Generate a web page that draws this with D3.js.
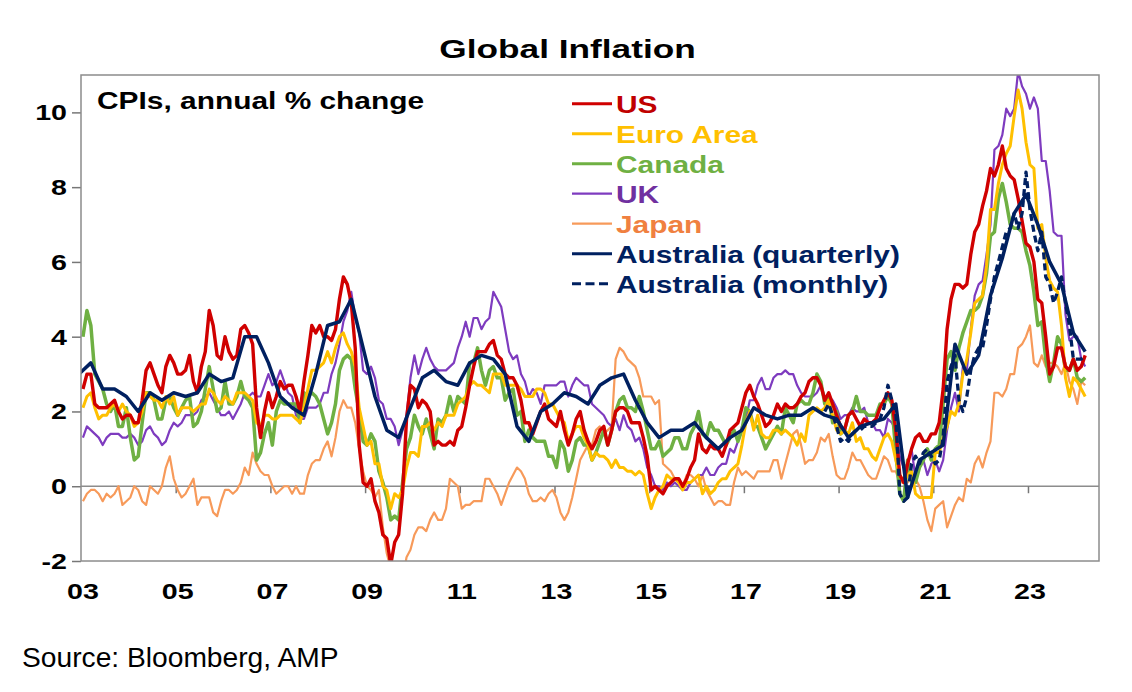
<!DOCTYPE html>
<html><head><meta charset="utf-8">
<script src="https://cdn.jsdelivr.net/npm/d3@7"></script>
<style>body{margin:0;background:#fff}svg{display:block}</style>
</head><body><svg id="c" width="1132" height="692"></svg>
<script>
// ---- data (annual % change) ----
const startYear = 2003; // monthly series start Jan 2003
const us = [
2.6,3.0,3.0,2.2,2.1,2.1,2.1,2.2,2.3,2.0,1.8,1.9,
1.9,1.7,1.7,2.3,3.1,3.3,3.0,2.7,2.5,3.2,3.5,3.3,
3.0,3.0,3.1,3.5,2.8,2.5,3.2,3.6,4.7,4.3,3.5,3.4,
4.0,3.6,3.4,3.5,4.2,4.3,4.1,3.8,2.1,1.3,2.0,2.5,
2.1,2.4,2.8,2.6,2.7,2.7,2.4,2.0,2.8,3.5,4.3,4.1,
4.3,4.0,4.0,3.9,4.2,5.0,5.6,5.4,4.9,3.7,1.1,0.1,
0.0,0.2,-0.4,-0.7,-1.3,-1.4,-2.1,-1.5,-1.3,-0.2,1.8,2.7,
2.6,2.1,2.3,2.2,2.0,1.1,1.2,1.1,1.1,1.2,1.1,1.5,
1.6,2.1,2.7,3.2,3.6,3.6,3.6,3.8,3.9,3.5,3.4,3.0,
2.9,2.9,2.7,2.3,1.7,1.7,1.4,1.7,2.0,2.2,1.8,1.7,
1.6,2.0,1.5,1.1,1.4,1.8,2.0,1.5,1.2,1.0,1.2,1.5,
1.6,1.1,1.5,2.0,2.1,2.1,2.0,1.7,1.7,1.7,1.3,0.8,
-0.1,0.0,-0.1,-0.2,0.0,0.1,0.2,0.2,0.0,0.2,0.5,0.7,
1.4,1.0,0.9,1.1,1.0,1.0,0.8,1.1,1.5,1.6,1.7,2.1,
2.5,2.7,2.4,2.2,1.9,1.6,1.7,1.9,2.2,2.0,2.2,2.1,
2.1,2.2,2.4,2.5,2.8,2.9,2.9,2.7,2.3,2.5,2.2,1.9,
1.6,1.5,1.9,2.0,1.8,1.6,1.8,1.7,1.7,1.8,2.1,2.3,
2.5,2.3,1.5,0.3,0.1,0.6,1.0,1.3,1.4,1.2,1.2,1.4,
1.4,1.7,2.6,4.2,5.0,5.4,5.4,5.3,5.4,6.2,6.8,7.0,
7.5,7.9,8.5,8.3,8.6,9.1,8.5,8.3,8.2,7.7,7.1,6.5,
6.4,6.0,5.0,4.9,4.0,3.0,3.2,3.7,3.7,3.2,3.1,3.4,
3.1,3.2,3.5];
const euroArea = [
2.1,2.4,2.5,2.1,1.8,1.9,1.9,2.1,2.2,2.0,2.2,2.0,
1.9,1.6,1.7,2.0,2.5,2.4,2.3,2.3,2.1,2.4,2.2,2.4,
1.9,2.1,2.1,2.1,2.0,2.1,2.2,2.2,2.6,2.5,2.3,2.2,
2.4,2.3,2.2,2.5,2.5,2.5,2.4,2.3,1.7,1.6,1.9,1.9,
1.8,1.8,1.9,1.9,1.9,1.9,1.8,1.7,2.1,2.6,3.1,3.1,
3.2,3.3,3.6,3.3,3.7,4.0,4.1,3.8,3.6,3.2,2.1,1.6,
1.1,1.2,0.6,0.6,0.0,-0.1,-0.6,-0.2,-0.3,-0.1,0.5,0.9,
0.9,0.8,1.6,1.6,1.7,1.5,1.7,1.6,1.9,1.9,1.9,2.2,
2.3,2.4,2.7,2.8,2.7,2.7,2.6,2.5,3.0,3.0,3.0,2.7,
2.7,2.7,2.7,2.6,2.4,2.4,2.4,2.6,2.6,2.5,2.2,2.2,
2.0,1.8,1.7,1.2,1.4,1.6,1.6,1.3,1.1,0.7,0.9,0.8,
0.8,0.7,0.5,0.7,0.5,0.5,0.4,0.4,0.3,0.4,0.3,-0.2,
-0.6,-0.3,-0.1,0.0,0.3,0.2,0.2,0.1,-0.1,0.1,0.1,0.2,
0.3,-0.2,0.0,-0.2,-0.1,0.1,0.2,0.2,0.4,0.5,0.6,1.1,
1.7,2.0,1.5,1.9,1.4,1.3,1.3,1.5,1.5,1.4,1.5,1.4,
1.3,1.1,1.4,1.2,1.9,2.0,2.1,2.0,2.1,2.3,1.9,1.5,
1.4,1.5,1.4,1.7,1.2,1.3,1.0,1.0,0.8,0.7,1.0,1.3,
1.4,1.2,0.7,0.3,0.1,0.3,0.4,-0.2,-0.3,-0.3,-0.3,-0.3,
0.9,0.9,1.3,1.6,2.0,1.9,2.2,3.0,3.4,4.1,4.9,5.0,
5.1,5.9,7.4,7.4,8.1,8.6,8.9,9.1,9.9,10.6,10.1,9.2,
8.6,8.5,6.9,7.0,6.1,5.5,5.3,5.2,4.3,2.9,2.4,2.9,
2.8,2.6,2.4];
const canada = [
4.0,4.7,4.3,3.0,2.8,2.6,2.2,2.0,2.2,1.6,1.6,2.1,
1.3,0.7,0.8,1.7,2.5,2.5,2.3,1.8,1.8,2.3,2.4,2.1,
1.9,2.1,2.3,2.4,1.6,1.7,2.0,2.6,3.2,2.6,2.0,2.1,
2.8,2.2,2.2,2.4,2.8,2.4,2.3,2.1,0.7,0.9,1.4,1.7,
1.1,2.0,2.3,2.2,2.2,2.2,2.2,1.7,2.5,2.4,2.5,2.4,
2.2,1.8,1.4,1.7,2.2,3.1,3.4,3.5,3.4,2.6,2.0,1.2,
1.1,1.4,1.2,0.4,0.1,-0.3,-0.9,-0.8,-0.9,0.1,1.0,1.3,
1.9,1.6,1.4,1.8,1.4,1.0,1.8,1.7,1.9,2.4,2.0,2.4,
2.3,2.2,3.3,3.3,3.7,3.1,2.7,3.1,3.2,2.9,2.9,2.3,
2.5,2.6,1.9,2.0,1.2,1.5,1.3,1.2,1.2,1.2,0.8,0.8,
0.5,1.2,1.0,0.4,0.7,1.2,1.3,1.1,1.1,0.7,0.9,1.2,
1.5,1.1,1.5,2.0,2.3,2.4,2.1,2.1,2.0,2.4,2.0,1.5,
1.0,1.0,1.2,0.8,0.9,1.0,1.3,1.3,1.0,1.0,1.4,1.6,
2.0,1.4,1.3,1.7,1.5,1.5,1.3,1.1,1.3,1.5,1.2,1.5,
2.1,2.0,1.6,1.6,1.3,1.0,1.2,1.4,1.6,1.4,2.1,1.9,
1.7,2.2,2.3,2.2,2.2,2.5,3.0,2.8,2.2,2.4,1.7,2.0,
1.4,1.5,1.9,2.0,2.4,2.0,2.0,1.9,1.9,1.9,2.2,2.2,
2.4,2.2,0.9,-0.2,-0.4,0.7,0.1,0.1,0.5,0.7,1.0,0.7,
1.0,1.1,2.2,3.4,3.6,3.1,3.7,4.1,4.4,4.7,4.7,4.8,
5.1,5.7,6.7,6.8,7.7,8.1,7.6,7.0,6.9,6.9,6.8,6.3,
5.9,5.2,4.3,4.4,3.4,2.8,3.3,4.0,3.8,3.1,3.1,3.4,
2.9,2.8,2.9];
const uk = [
1.3,1.6,1.5,1.4,1.3,1.1,1.3,1.4,1.4,1.4,1.3,1.3,
1.4,1.3,1.1,1.2,1.5,1.6,1.4,1.3,1.1,1.2,1.5,1.7,
1.6,1.7,1.9,1.9,1.9,2.0,2.3,2.4,2.5,2.3,2.1,1.9,
1.9,2.0,1.8,2.0,2.2,2.5,2.4,2.5,2.4,2.4,2.7,3.0,
2.7,2.8,3.1,2.8,2.5,2.4,1.9,1.8,1.8,2.1,2.1,2.1,
2.2,2.5,2.5,3.0,3.3,3.8,4.4,4.7,5.2,4.5,4.1,3.1,
3.0,3.2,2.9,2.3,2.2,1.8,1.8,1.6,1.1,1.5,1.9,2.9,
3.5,3.0,3.4,3.7,3.4,3.2,3.1,3.1,3.1,3.2,3.3,3.7,
4.0,4.4,4.0,4.5,4.5,4.2,4.4,4.5,5.2,5.0,4.8,4.2,
3.6,3.4,3.5,3.0,2.8,2.4,2.6,2.5,2.2,2.7,2.7,2.7,
2.7,2.8,2.8,2.4,2.7,2.9,2.8,2.7,2.7,2.2,2.1,2.0,
1.9,1.7,1.6,1.8,1.5,1.9,1.6,1.5,1.2,1.3,1.0,0.5,
0.3,0.0,0.0,-0.1,0.1,0.0,0.1,0.0,-0.1,-0.1,0.1,0.2,
0.3,0.3,0.5,0.3,0.3,0.5,0.6,0.6,1.0,0.9,1.2,1.6,
1.8,2.3,2.3,2.7,2.9,2.6,2.6,2.9,3.0,3.0,3.1,3.0,
3.0,2.7,2.5,2.4,2.4,2.4,2.5,2.7,2.4,2.4,2.3,2.1,
1.8,1.9,1.9,2.1,2.0,2.0,2.1,1.7,1.7,1.5,1.5,1.3,
1.8,1.7,1.5,0.8,0.5,0.6,1.0,0.2,0.5,0.7,0.3,0.6,
0.7,0.4,0.7,1.5,2.1,2.5,2.0,3.2,3.1,4.2,5.1,5.4,
5.5,6.2,7.0,9.0,9.1,9.4,10.1,9.9,10.1,11.1,10.7,10.5,
10.1,10.4,10.1,8.7,8.7,7.9,6.8,6.7,6.7,4.6,3.9,4.0,
4.0,3.4,3.2];
const japan = [
-0.4,-0.2,-0.1,-0.1,-0.2,-0.4,-0.2,-0.3,-0.2,0.0,-0.5,-0.4,
-0.3,0.0,-0.1,-0.4,-0.5,0.0,-0.1,-0.2,0.0,0.5,0.8,0.2,
-0.1,-0.3,-0.2,0.0,0.2,-0.5,-0.3,-0.3,-0.3,-0.7,-0.8,-0.4,
-0.1,-0.1,-0.2,-0.1,0.1,0.5,0.3,0.9,0.6,0.4,0.3,0.3,
0.0,-0.2,-0.1,0.0,0.0,-0.2,0.0,-0.2,-0.2,0.3,0.6,0.7,
0.7,1.0,1.2,0.8,1.3,2.0,2.3,2.1,2.1,1.7,1.0,0.4,
0.0,-0.1,-0.3,-0.1,-1.1,-1.8,-2.2,-2.2,-2.2,-2.5,-1.9,-1.7,
-1.3,-1.1,-1.1,-1.2,-0.9,-0.7,-0.9,-0.9,-0.6,0.2,0.1,0.0,
-0.6,-0.5,-0.5,-0.4,-0.4,-0.4,0.2,0.2,0.0,-0.2,-0.5,-0.2,
0.1,0.3,0.5,0.4,0.2,-0.2,-0.4,-0.4,-0.3,-0.4,-0.2,-0.1,
-0.3,-0.7,-0.9,-0.7,-0.3,0.2,0.7,0.9,1.1,1.1,1.5,1.6,
1.4,1.5,1.6,3.4,3.7,3.6,3.4,3.3,3.2,2.9,2.4,2.4,
2.4,2.2,2.3,0.6,0.5,0.4,0.2,0.2,0.0,0.3,0.3,0.2,
0.0,0.3,-0.1,-0.3,-0.5,-0.4,-0.4,-0.5,-0.5,0.1,0.5,0.3,
0.4,0.3,0.2,0.4,0.4,0.4,0.4,0.7,0.7,0.2,0.6,1.0,
1.4,1.5,1.1,0.6,0.7,0.7,0.9,1.3,1.2,1.4,0.8,0.3,
0.2,0.2,0.5,0.9,0.7,0.7,0.5,0.3,0.2,0.2,0.5,0.8,
0.7,0.4,0.4,0.1,0.1,0.1,0.3,0.2,0.0,-0.4,-0.9,-1.2,
-0.6,-0.5,-0.4,-1.1,-0.8,-0.5,-0.3,-0.4,0.2,0.1,0.6,0.8,
0.5,0.9,1.2,2.5,2.5,2.4,2.6,3.0,3.0,3.7,3.8,4.0,
4.3,3.3,3.2,3.5,3.2,3.3,3.3,3.2,3.0,3.3,2.8,2.6,
2.2,2.8,2.7];
// Australia quarterly: first value is Dec quarter 2002, then every quarter
const ausQStartYear = 2002, ausQStartMonth = 11;
const ausQuarterly = [
3.0,3.3,2.6,2.6,2.4,
2.0,2.5,2.3,2.5,
2.4,2.5,3.0,2.8,
2.9,4.0,4.0,3.3,
2.4,2.1,1.9,3.0,
4.3,4.4,5.0,3.7,
2.4,1.5,1.3,2.1,
2.9,3.1,2.8,2.7,
3.3,3.5,3.4,3.0,
1.6,1.2,2.0,2.2,
2.5,2.4,2.2,2.7,
2.9,3.0,2.3,1.7,
1.3,1.5,1.5,1.7,
1.3,1.0,1.3,1.5,
2.1,1.9,1.8,1.9,
1.9,2.1,1.9,1.8,
1.3,1.6,1.7,1.8,
2.2,-0.3,0.7,0.9,
1.1,3.8,3.0,3.5,
5.1,6.1,7.3,7.8,
7.0,6.0,5.4,4.1,
3.6];
// Australia monthly CPI indicator from Sep 2018
const ausMStartYear = 2018, ausMStartMonth = 8;
const ausMonthly = [
2.0,2.2,1.9,1.6,
1.2,1.3,1.2,1.4,1.5,1.5,1.6,1.6,1.6,1.7,1.8,2.1,
2.7,2.3,2.0,-0.2,-0.4,-0.3,0.6,0.8,0.6,0.9,1.0,0.8,
0.6,0.7,1.3,2.8,3.2,3.5,2.3,2.0,2.4,3.1,3.5,3.7,
3.7,4.3,5.0,5.6,6.0,6.4,6.8,6.9,7.3,6.9,7.3,8.4,
7.4,6.8,6.3,6.8,5.6,5.4,4.9,5.2,5.6,4.9,4.3,3.4,
3.4,3.4,3.5];
const yTickValues = [-2,0,2,4,6,8,10];
const xTickValues = [2003,2005,2007,2009,2011,2013,2015,2017,2019,2021,2023];
const xTickLabels = ["03","05","07","09","11","13","15","17","19","21","23"];
const seriesNames = ["US","Euro Area","Canada","UK","Japan","Australia (quarterly)","Australia (monthly)"];

// ---- drawing ----
const svg = d3.select("#c");
const FONT = "'Liberation Sans', Arial, Helvetica, sans-serif";
const SX = 1.3; // horizontal stretch of the chart's lettering
const L = 81, R = 1099, T = 75, B = 561;
const x = d3.scaleLinear().domain([2003, 2024.5]).range([L, R]);
const y = d3.scaleLinear().domain([-2, 11]).range([B, T]);

function txt(str, px, py, opts) {
  return svg.append("text")
    .attr("transform", `translate(${px},${py}) scale(${opts.sx || 1},1)`)
    .attr("font-family", FONT)
    .attr("font-size", opts.size)
    .attr("font-weight", opts.weight || "bold")
    .attr("fill", opts.fill || "#000")
    .attr("text-anchor", opts.anchor || "start")
    .text(str);
}

const monthly = (arr, y0, m0) => arr.map((v, i) => ({t: y0 + (m0 + i + 0.5) / 12, v}));
const quarterly = (arr, y0, m0) => arr.map((v, i) => ({t: y0 + (m0 + 3 * i + 0.5) / 12, v}));

svg.append("defs").append("clipPath").attr("id", "plotclip")
  .append("rect").attr("x", L).attr("y", T).attr("width", R - L).attr("height", B - T);

// zero line
svg.append("line").attr("x1", L).attr("x2", R).attr("y1", y(0)).attr("y2", y(0))
  .attr("stroke", "#8c8c8c").attr("stroke-width", 1.5);

// x ticks on zero line
svg.append("g").attr("transform", `translate(0,${y(0)})`)
  .call(d3.axisBottom(x).tickValues(xTickValues.slice(1)).tickSize(7).tickFormat(""))
  .call(g => g.select(".domain").remove())
  .call(g => g.selectAll(".tick line").attr("stroke", "#777").attr("stroke-width", 1.5));

// y ticks
svg.append("g").attr("transform", `translate(${L},0)`)
  .call(d3.axisLeft(y).tickValues(yTickValues).tickSize(9).tickFormat(""))
  .call(g => g.select(".domain").remove())
  .call(g => g.selectAll(".tick line").attr("stroke", "#777").attr("stroke-width", 1.5));

const line = d3.line().x(d => x(d.t)).y(d => y(d.v));
const plot = svg.append("g").attr("clip-path", "url(#plotclip)");

const series = [
  {data: monthly(japan, startYear, 0), color: "#F79A5A", w: 2.2},
  {data: monthly(uk, startYear, 0), color: "#7E3BBF", w: 2.2},
  {data: monthly(canada, startYear, 0), color: "#6FB043", w: 3.5},
  {data: monthly(euroArea, startYear, 0), color: "#FFC000", w: 3},
  {data: monthly(us, startYear, 0), color: "#D00000", w: 3.4},
  {data: monthly(ausMonthly, ausMStartYear, ausMStartMonth), color: "#002060", w: 3.3, dash: "7,4"},
  {data: quarterly(ausQuarterly, ausQStartYear, ausQStartMonth), color: "#002060", w: 3.5}
];
series.forEach(s => {
  plot.append("path").datum(s.data).attr("d", line)
    .attr("fill", "none").attr("stroke", s.color).attr("stroke-width", s.w)
    .attr("stroke-linejoin", "round")
    .attr("stroke-dasharray", s.dash || null);
});

// frame
svg.append("rect").attr("x", L).attr("y", T).attr("width", R - L).attr("height", B - T)
  .attr("fill", "none").attr("stroke", "#8c8c8c").attr("stroke-width", 1.5);

// y labels
yTickValues.forEach(v => txt(String(v), 67, y(v) + 8, {size: 22, anchor: "end", sx: SX}));
// x labels
xTickValues.forEach((v, i) => txt(xTickLabels[i], x(v) + 2, 599, {size: 22, anchor: "middle", sx: SX}));

// title and subtitle
txt("Global Inflation", 567.5, 58, {size: 26.5, anchor: "middle", sx: 1.33});
txt("CPIs, annual % change", 97, 109, {size: 23, sx: SX});

// legend
const legendColors = ["#D00000", "#FFC000", "#6FB043", "#7E3BBF", "#F79A5A", "#002060", "#002060"];
const textColors = ["#C00000", "#FFC000", "#6FB043", "#7030A0", "#F08040", "#002060", "#002060"];
const legendW = [3, 3, 3, 2.2, 2.2, 3, 3];
seriesNames.forEach((name, i) => {
  const by = 112.7 + 30 * i;
  svg.append("line").attr("x1", 572).attr("x2", 612).attr("y1", by - 9).attr("y2", by - 9)
    .attr("stroke", legendColors[i]).attr("stroke-width", legendW[i])
    .attr("stroke-dasharray", i === 6 ? "9,4.5" : null);
  txt(name, 616, by, {size: 23, fill: textColors[i], sx: SX});
});

// source
txt("Source: Bloomberg, AMP", 22, 667, {size: 28.2, weight: "normal"});
</script>
</body></html>
